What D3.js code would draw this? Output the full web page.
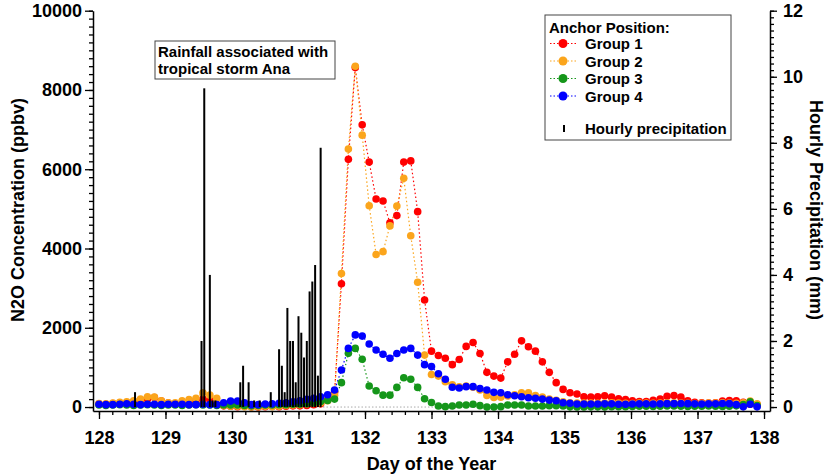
<!DOCTYPE html>
<html>
<head>
<meta charset="utf-8">
<script src="https://cdn.jsdelivr.net/npm/d3@7"></script>
<style>
  body { margin: 0; background: #fff; }
  svg { display: block; font-family: "Liberation Sans", Arial, Helvetica, sans-serif; font-weight: bold; }
</style>
</head>
<body>
<div id="chart"></div>
<script>
// Sample times (day of year), one sample every 2.5 h
const days = [
  128.000, 128.104, 128.208, 128.313, 128.417, 128.521, 128.625, 128.729, 128.833, 128.938,
  129.042, 129.146, 129.250, 129.354, 129.458, 129.563, 129.667, 129.771, 129.875, 129.979,
  130.083, 130.188, 130.292, 130.396, 130.500, 130.604, 130.708, 130.813, 130.917, 131.021,
  131.125, 131.229, 131.333, 131.438, 131.542, 131.646, 131.750, 131.854, 131.958, 132.063,
  132.167, 132.271, 132.375, 132.479, 132.583, 132.688, 132.792, 132.896, 133.000, 133.104,
  133.208, 133.313, 133.417, 133.521, 133.625, 133.729, 133.833, 133.938, 134.042, 134.146,
  134.250, 134.354, 134.458, 134.563, 134.667, 134.771, 134.875, 134.979, 135.083, 135.188,
  135.292, 135.396, 135.500, 135.604, 135.708, 135.813, 135.917, 136.021, 136.125, 136.229,
  136.333, 136.438, 136.542, 136.646, 136.750, 136.854, 136.958, 137.063, 137.167, 137.271,
  137.375, 137.479, 137.583, 137.688, 137.792, 137.896
];

// N2O concentration (ppbv) per anchor group
const group1 = [
  80, 70, 90, 100, 110, 130, 180, 200, 240, 150,
  100, 80, 90, 110, 160, 200, 180, 60, 30, 20,
  10, 20, 10, 0, 10, 20, 10, 20, 30, 30,
  40, 60, 80, 180, 370, 3110, 6250, 8570, 7120, 6180,
  5250, 5200, 4650, 4830, 6180, 6210, 4930, 2700, 1410, 1300,
  1230, 1070, 1200, 1530, 1630, 1350, 875, 780, 730, 1140,
  1330, 1670, 1520, 1410, 1140, 875, 615, 445, 360, 330,
  260, 250, 260, 285, 250, 210, 190, 160, 140, 140,
  170, 200, 270, 290, 250, 160, 120, 110, 100, 110,
  150, 165, 160, 120, 70, 60
];
const group2 = [
  90, 80, 100, 120, 130, 160, 200, 260, 250, 160,
  110, 110, 160, 190, 220, 360, 300, 220, 40, 20,
  20, 10, 0, 10, 20, 10, 20, 40, 50, 60,
  80, 90, 100, 160, 300, 3370, 6510, 8600, 6860, 5080,
  3850, 3920, 4570, 5070, 5770, 4320, 3150, 1310, 820, 780,
  640, 560, 510, 530, 500, 430, 290, 240, 250, 280,
  310, 360, 360, 290, 250, 200, 170, 130, 110, 100,
  100, 100, 95, 100, 105, 100, 95, 90, 100, 100,
  95, 100, 110, 110, 100, 95, 90, 95, 100, 100,
  105, 100, 95, 110, 150, 80
];
const group3 = [
  50, 40, 50, 60, 50, 40, 50, 60, 50, 40,
  50, 50, 40, 50, 60, 50, 50, 40, 50, 50,
  50, 40, 30, 40, 50, 50, 60, 60, 70, 70,
  80, 100, 140, 165, 200, 615, 1355, 1480, 1205, 530,
  410, 300, 300, 495, 740, 700, 495, 210, 115, 25,
  10, 25, 50, 50, 70, 35, 0, 0, 10, 50,
  50, 50, 25, 25, 25, 35, 35, 25, 5, 0,
  0, 5, 5, 0, 10, 10, 10, 15, 20, 20,
  15, 20, 25, 25, 20, 15, 20, 20, 25, 20,
  15, 20, 30, 60, 130, 40
];
const group4 = [
  70, 60, 60, 70, 80, 70, 60, 70, 70, 60,
  70, 70, 70, 60, 60, 70, 60, 60, 110, 150,
  150, 110, 60, 60, 75, 80, 95, 110, 135, 160,
  195, 220, 260, 310, 430, 935, 1480, 1820, 1790, 1590,
  1440, 1330, 1230, 1350, 1440, 1480, 1310, 1070, 1020, 840,
  700, 500, 480, 515, 515, 465, 430, 370, 360, 310,
  285, 260, 235, 220, 200, 175, 160, 110, 95, 75,
  75, 75, 75, 80, 80, 70, 70, 75, 80, 80,
  75, 80, 85, 85, 90, 85, 80, 75, 80, 80,
  90, 85, 60, 5, 70, 5
];

// Hourly precipitation (mm)
const precipDays = [
  128.542, 129.542, 129.583, 129.667, 129.708, 129.750,
  130.125, 130.167, 130.250, 130.333, 130.417, 130.583,
  130.708, 130.750, 130.792, 130.833, 130.875, 130.917, 130.958,
  131.000, 131.042, 131.083, 131.125, 131.167, 131.208, 131.250, 131.292, 131.333
];
const precipMm = [
  0.45, 2.0, 9.65, 4.0, 0.2, 0.2,
  0.75, 1.25, 0.75, 0.2, 0.2, 0.45,
  1.75, 1.25, 0.45, 3.0, 2.0, 2.0, 0.75,
  2.75, 2.25, 1.5, 2.0, 3.5, 3.8, 4.3, 0.95, 7.85
];

const groupNames = ['Group 1', 'Group 2', 'Group 3', 'Group 4'];
const groupColors = ['#ff0000', '#fba51c', '#15961a', '#0000ff'];
const xTicks = [128, 129, 130, 131, 132, 133, 134, 135, 136, 137, 138];
const yLeftTicks = [0, 2000, 4000, 6000, 8000, 10000];
const yRightTicks = [0, 2, 4, 6, 8, 10, 12];

const width = 832, height = 474;
const plot = { left: 93, right: 770, top: 10.7, bottom: 411 };

const svg = d3.select('#chart').append('svg')
  .attr('width', width)
  .attr('height', height);

// Scales
const x = d3.scaleLinear().domain([127.91, 138.09]).range([plot.left, plot.right]);
const y = d3.scaleLinear().domain([-100, 10000]).range([plot.bottom, plot.top]);
const yR = d3.scaleLinear().domain([-0.12, 12]).range([plot.bottom, plot.top]);

// Zero line of the precipitation trace
svg.append('line')
  .attr('x1', x(128)).attr('x2', x(137.95))
  .attr('y1', yR(0)).attr('y2', yR(0))
  .attr('stroke', '#aaa')
  .attr('stroke-width', 1)
  .attr('stroke-dasharray', '1.5,2');

// Series lines and points
const series = [group1, group2, group3, group4].map((vals, i) => ({
  name: groupNames[i],
  color: groupColors[i],
  points: vals.map((v, j) => ({ x: days[j], y: v }))
}));

const line = d3.line().x(d => x(d.x)).y(d => y(d.y));

series.forEach(s => {
  svg.append('path')
    .datum(s.points)
    .attr('fill', 'none')
    .attr('stroke', s.color)
    .attr('stroke-width', 1.2)
    .attr('stroke-dasharray', '1.5,2.5')
    .attr('d', line);
});

series.forEach(s => {
  svg.append('g').selectAll('circle')
    .data(s.points)
    .join('circle')
    .attr('cx', d => x(d.x))
    .attr('cy', d => y(d.y))
    .attr('r', 3.8)
    .attr('fill', s.color);
});

// Precipitation sticks
svg.append('g').selectAll('rect')
  .data(precipDays.map((d, i) => ({ x: d, y: precipMm[i] })))
  .join('rect')
  .attr('x', d => x(d.x) - 1)
  .attr('width', 2)
  .attr('y', d => yR(d.y))
  .attr('height', d => yR(0) - yR(d.y))
  .attr('fill', '#000');

// Axes
function styleAxis(g) {
  g.selectAll('path.domain').attr('stroke', '#000').attr('stroke-width', 1.5);
  g.selectAll('.tick line').attr('stroke', '#000').attr('stroke-width', 1.3);
  g.selectAll('.tick text').attr('font-size', 18).attr('font-weight', 'bold')
    .attr('font-family', '"Liberation Sans", Arial, sans-serif').attr('fill', '#000');
}

// x axis
svg.append('g')
  .attr('transform', `translate(0,${plot.bottom})`)
  .call(d3.axisBottom(x).tickValues(d3.range(128, 138.01, 0.2)).tickSize(4).tickFormat(''))
  .call(g => g.select('.domain').remove())
  .call(styleAxis);
svg.append('g')
  .attr('transform', `translate(0,${plot.bottom})`)
  .call(d3.axisBottom(x).tickValues(xTicks).tickSize(8).tickSizeOuter(0).tickPadding(12).tickFormat(d3.format('d')))
  .call(styleAxis);

// left axis
svg.append('g')
  .attr('transform', `translate(${plot.left},0)`)
  .call(d3.axisLeft(y).tickValues(d3.range(0, 10001, 200)).tickSize(4).tickFormat(''))
  .call(g => g.select('.domain').remove())
  .call(styleAxis);
svg.append('g')
  .attr('transform', `translate(${plot.left},0)`)
  .call(d3.axisLeft(y).tickValues(yLeftTicks).tickSize(8).tickSizeOuter(0).tickPadding(3).tickFormat(d3.format('d')))
  .call(styleAxis);

// right axis
svg.append('g')
  .attr('transform', `translate(${plot.right},0)`)
  .call(d3.axisRight(yR).tickValues(d3.range(0, 12.01, 0.2)).tickSize(4).tickFormat(''))
  .call(g => g.select('.domain').remove())
  .call(styleAxis);
svg.append('g')
  .attr('transform', `translate(${plot.right},0)`)
  .call(d3.axisRight(yR).tickValues(yRightTicks).tickSize(7).tickSizeOuter(0).tickPadding(6).tickFormat(d3.format('d')))
  .call(styleAxis);

// Axis titles
svg.append('text')
  .attr('x', (plot.left + plot.right) / 2)
  .attr('y', 470)
  .attr('text-anchor', 'middle')
  .attr('font-size', 18)
  .text('Day of the Year');

svg.append('text')
  .attr('transform', 'translate(24,210) rotate(-90)')
  .attr('text-anchor', 'middle')
  .attr('font-size', 18)
  .text('N2O Concentration (ppbv)');

svg.append('text')
  .attr('transform', 'translate(810,210) rotate(90)')
  .attr('text-anchor', 'middle')
  .attr('font-size', 18)
  .text('Hourly Precipitation (mm)');

// Annotation box
const note = svg.append('g');
note.append('rect')
  .attr('x', 155).attr('y', 41).attr('width', 180).attr('height', 38)
  .attr('fill', '#fff').attr('stroke', '#444').attr('stroke-width', 1);
note.append('text')
  .attr('x', 158).attr('y', 57)
  .attr('font-size', 15)
  .text('Rainfall associated with');
note.append('text')
  .attr('x', 158).attr('y', 74)
  .attr('font-size', 15)
  .text('tropical storm Ana');

// Legend
const legend = svg.append('g');
legend.append('rect')
  .attr('x', 545).attr('y', 15).attr('width', 186).attr('height', 125)
  .attr('fill', '#fff').attr('stroke', '#444').attr('stroke-width', 1);
legend.append('text')
  .attr('x', 549).attr('y', 33)
  .attr('font-size', 15)
  .text('Anchor Position:');

const rowY = [43.5, 61, 78.5, 96];
series.forEach((s, i) => {
  const row = legend.append('g').attr('transform', `translate(0,${rowY[i]})`);
  row.append('line')
    .attr('x1', 550).attr('x2', 576)
    .attr('stroke', s.color).attr('stroke-width', 1.2)
    .attr('stroke-dasharray', '1.5,2');
  row.append('circle')
    .attr('cx', 563).attr('cy', 0).attr('r', 4.5)
    .attr('fill', s.color);
  row.append('text')
    .attr('x', 585).attr('y', 5.5)
    .attr('font-size', 15)
    .text(s.name);
});

legend.append('rect')
  .attr('x', 563).attr('y', 125).attr('width', 2).attr('height', 7)
  .attr('fill', '#000');
legend.append('text')
  .attr('x', 585).attr('y', 134)
  .attr('font-size', 15)
  .text('Hourly precipitation');
</script>
</body>
</html>
